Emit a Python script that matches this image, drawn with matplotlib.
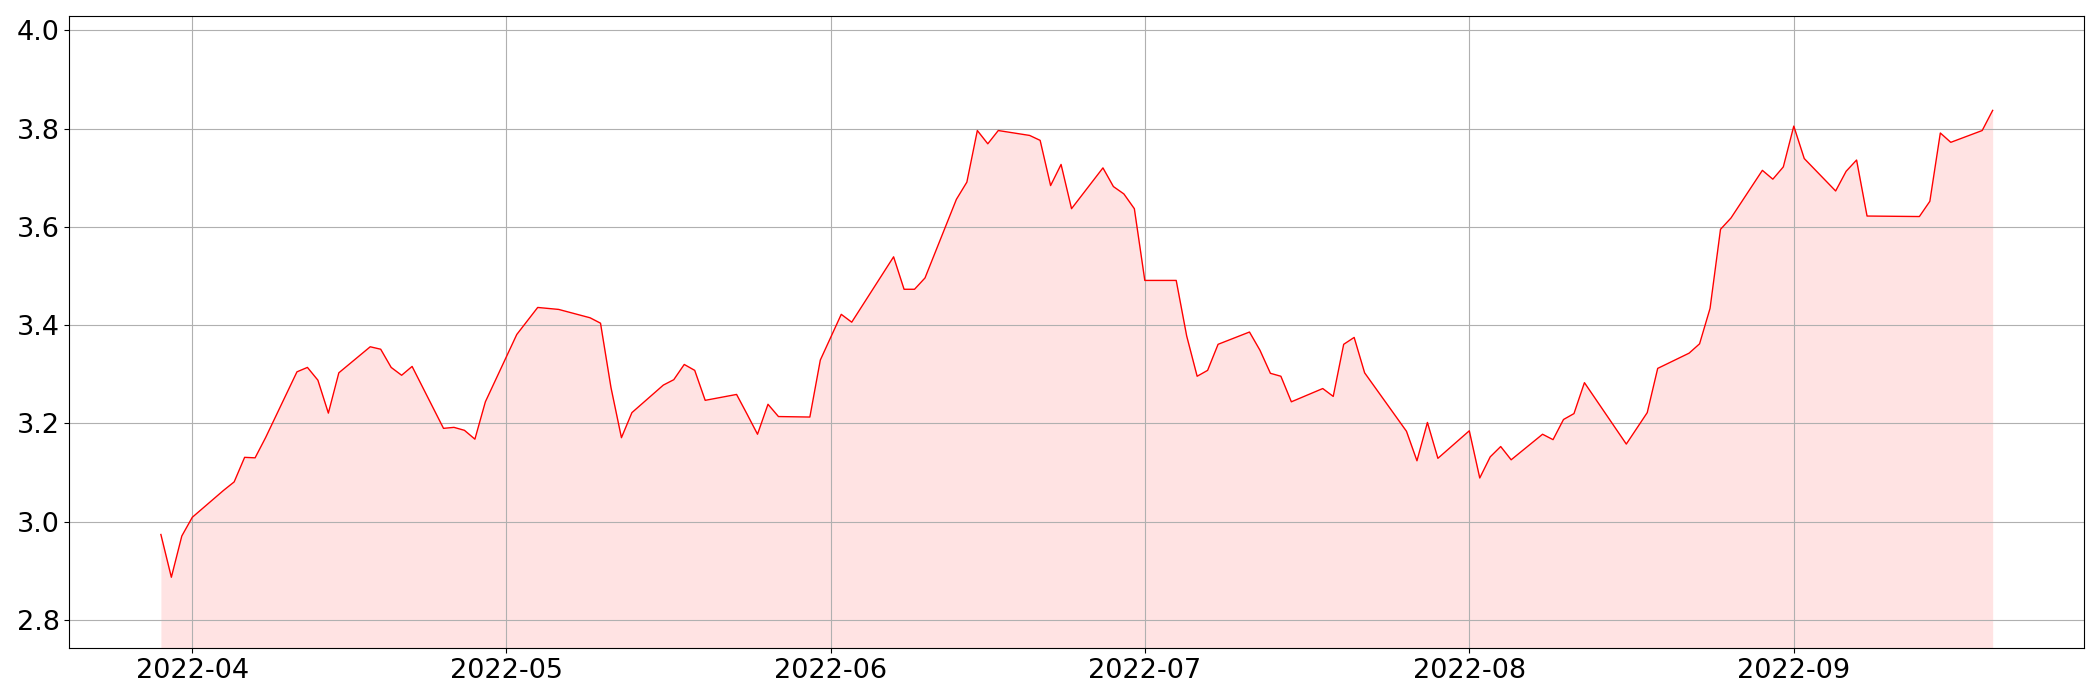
import matplotlib
matplotlib.use('Agg')
import matplotlib.pyplot as plt
import pandas as pd

dates = ['2022-03-29', '2022-03-30', '2022-03-31', '2022-04-01', '2022-04-04', '2022-04-05',
         '2022-04-06', '2022-04-07', '2022-04-08', '2022-04-11', '2022-04-12', '2022-04-13',
         '2022-04-14', '2022-04-15', '2022-04-18', '2022-04-19', '2022-04-20', '2022-04-21',
         '2022-04-22', '2022-04-25', '2022-04-26', '2022-04-27', '2022-04-28', '2022-04-29',
         '2022-05-02', '2022-05-04', '2022-05-06', '2022-05-09', '2022-05-10', '2022-05-11',
         '2022-05-12', '2022-05-13', '2022-05-16', '2022-05-17', '2022-05-18', '2022-05-19',
         '2022-05-20', '2022-05-23', '2022-05-24', '2022-05-25', '2022-05-26', '2022-05-27',
         '2022-05-30', '2022-05-31', '2022-06-02', '2022-06-03', '2022-06-07', '2022-06-08',
         '2022-06-09', '2022-06-10', '2022-06-13', '2022-06-14', '2022-06-15', '2022-06-16',
         '2022-06-17', '2022-06-20', '2022-06-21', '2022-06-22', '2022-06-23', '2022-06-24',
         '2022-06-27', '2022-06-28', '2022-06-29', '2022-06-30', '2022-07-01', '2022-07-04',
         '2022-07-05', '2022-07-06', '2022-07-07', '2022-07-08', '2022-07-11', '2022-07-12',
         '2022-07-13', '2022-07-14', '2022-07-15', '2022-07-18', '2022-07-19', '2022-07-20',
         '2022-07-21', '2022-07-22', '2022-07-26', '2022-07-27', '2022-07-28', '2022-07-29',
         '2022-08-01', '2022-08-02', '2022-08-03', '2022-08-04', '2022-08-05', '2022-08-08',
         '2022-08-09', '2022-08-10', '2022-08-11', '2022-08-12', '2022-08-16', '2022-08-18',
         '2022-08-19', '2022-08-22', '2022-08-23', '2022-08-24', '2022-08-25', '2022-08-26',
         '2022-08-29', '2022-08-30', '2022-08-31', '2022-09-01', '2022-09-02', '2022-09-05',
         '2022-09-06', '2022-09-07', '2022-09-08', '2022-09-13', '2022-09-14', '2022-09-15',
         '2022-09-16', '2022-09-19', '2022-09-20']

values = [2.974, 2.887, 2.971, 3.009, 3.064, 3.081,
          3.131, 3.130, 3.171, 3.305, 3.314, 3.288,
          3.221, 3.303, 3.356, 3.351, 3.314, 3.298,
          3.316, 3.190, 3.192, 3.186, 3.168, 3.244,
          3.381, 3.436, 3.432, 3.415, 3.404, 3.273,
          3.171, 3.222, 3.278, 3.289, 3.320, 3.308,
          3.247, 3.259, 3.219, 3.178, 3.239, 3.214,
          3.213, 3.329, 3.422, 3.406, 3.539, 3.473,
          3.473, 3.496, 3.656, 3.691, 3.796, 3.769,
          3.796, 3.786, 3.776, 3.684, 3.727, 3.637,
          3.720, 3.682, 3.667, 3.637, 3.491, 3.491,
          3.378, 3.296, 3.308, 3.361, 3.386, 3.349,
          3.302, 3.296, 3.244, 3.271, 3.255, 3.361,
          3.375, 3.303, 3.184, 3.124, 3.202, 3.129,
          3.185, 3.089, 3.132, 3.153, 3.126, 3.178,
          3.167, 3.208, 3.220, 3.283, 3.158, 3.222,
          3.312, 3.343, 3.362, 3.434, 3.595, 3.618,
          3.715, 3.697, 3.722, 3.805, 3.739, 3.673,
          3.713, 3.736, 3.622, 3.621, 3.652, 3.791,
          3.772, 3.796, 3.837]

x = pd.to_datetime(dates)

fig, ax = plt.subplots(figsize=(21, 7), dpi=100)
bottom = min(values) * 0.95
top = max(values) * 1.05

ax.plot(x, values, color='red', linewidth=1)
ax.fill_between(x, values, bottom, color='red', alpha=0.11, linewidth=0)
ax.set_ylim(bottom, top)
ax.grid(True)
ax.tick_params(labelsize=19.5)

plt.subplots_adjust(left=0.033, right=0.9925, top=0.977, bottom=0.074)
plt.savefig('out.png')
